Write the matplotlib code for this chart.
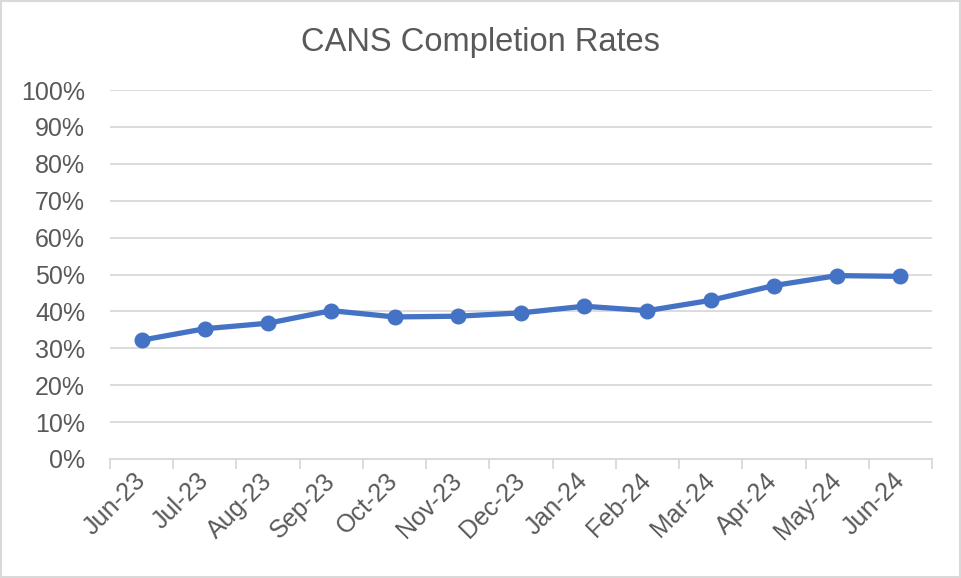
import numpy as np
import matplotlib
matplotlib.use("Agg")
import matplotlib.pyplot as plt
from matplotlib.ticker import FixedLocator, PercentFormatter
from matplotlib.patches import Rectangle

months = ['Jun-23', 'Jul-23', 'Aug-23', 'Sep-23', 'Oct-23', 'Nov-23', 'Dec-23',
          'Jan-24', 'Feb-24', 'Mar-24', 'Apr-24', 'May-24', 'Jun-24']
rates = [32.2, 35.3, 36.8, 40.2, 38.5, 38.7, 39.6, 41.4, 40.2, 43.0, 47.0, 49.7, 49.5]

TXT = '#595959'
GRID = '#D9D9D9'
BLUE = '#4472C4'

plt.rcParams['font.family'] = ['Liberation Sans', 'DejaVu Sans']

fig = plt.figure(figsize=(9.61, 5.78), dpi=100)
ax = fig.add_axes([110/961, 1-459/578, 822/961, 369/578])

x = np.arange(len(months))
ax.plot(x, rates, color=BLUE, lw=3.8, marker='o', ms=10.5, zorder=3,
        solid_capstyle='round')

ax.set_xlim(-0.5, len(months)-0.5)
ax.set_ylim(0, 100)
ax.set_yticks(np.arange(0, 101, 10))
ax.yaxis.set_major_formatter(PercentFormatter(decimals=0))
ax.grid(axis='y', color=GRID, lw=1.3, zorder=0)
ax.tick_params(axis='y', length=0, pad=18, labelsize=18, labelcolor=TXT)

ax.set_xticks(x)
ax.set_xticklabels(months, rotation=45, ha='right', va='center',
                   rotation_mode='anchor', fontsize=18, color=TXT)
ax.tick_params(axis='x', which='major', length=0, pad=13)
ax.xaxis.set_minor_locator(FixedLocator(np.arange(-0.5, len(months), 1)))
ax.tick_params(axis='x', which='minor', length=7, width=1.3, color=GRID)

for s in ['top', 'right', 'left']:
    ax.spines[s].set_visible(False)
ax.spines['bottom'].set_color(GRID)
ax.spines['bottom'].set_linewidth(1.3)

fig.text(0.5, 1-42/578, 'CANS Completion Rates', ha='center', va='center',
         fontsize=23.5, color=TXT)

fig.patches.append(Rectangle((0.001, 0.001), 0.998, 0.998, transform=fig.transFigure,
                             fill=False, edgecolor=GRID, lw=1.5))

fig.savefig('out.png', dpi=100)
